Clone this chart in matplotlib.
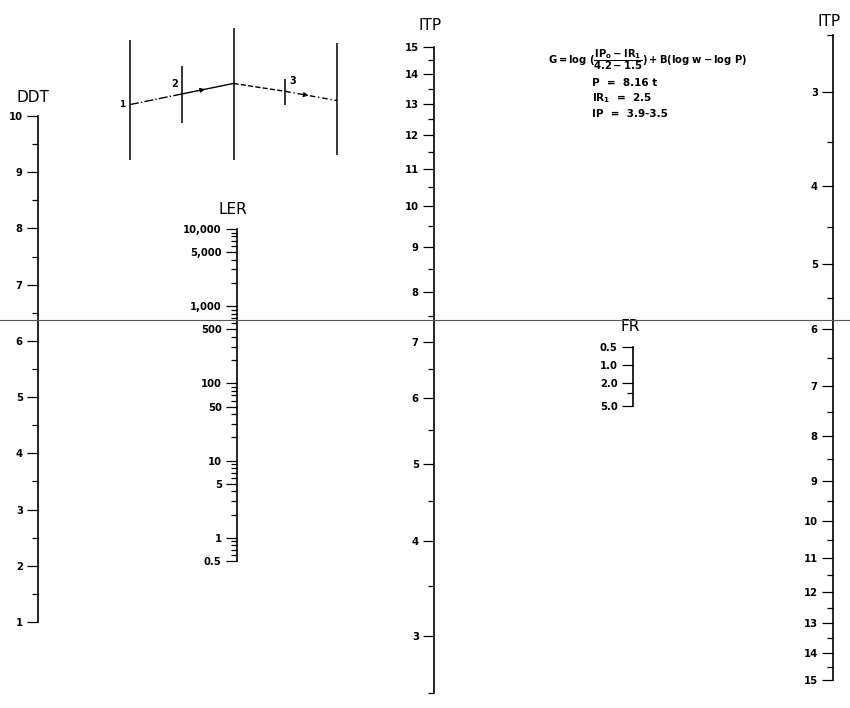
"""
Nomogram: DDT / LER / ITP / FR / ITP scales with a small key diagram and formula.
"""
import matplotlib

matplotlib.use("Agg")
import matplotlib.pyplot as plt  # noqa: E402
import numpy as np  # noqa: E402
from matplotlib.lines import Line2D  # noqa: E402

W, H = 850, 708  # figure size in px (dpi 100)

# ---- scale data -------------------------------------------------------------
ddt_major = [1, 2, 3, 4, 5, 6, 7, 8, 9, 10]
ddt_labels = ["1", "2", "3", "4", "5", "6", "7", "8", "9", "10"]
ddt_minor = [1.5, 2.5, 3.5, 4.5, 5.5, 6.5, 7.5, 8.5, 9.5]

ler_major = [0.5, 1, 5, 10, 50, 100, 500, 1000, 5000, 10000]
ler_labels = ["0.5", "1", "5", "10", "50", "100", "500", "1,000", "5,000", "10,000"]
ler_minor = [0.6, 0.7, 0.8, 0.9, 2, 3, 4, 6, 7, 8, 9, 20, 30, 40, 60, 70, 80, 90,
             200, 300, 400, 600, 700, 800, 900, 2000, 3000, 4000, 6000, 7000, 8000, 9000]

itp_major = [3, 4, 5, 6, 7, 8, 9, 10, 11, 12, 13, 14, 15]
itp_labels = [str(v) for v in itp_major]
itp_minor = [2.5, 3.5, 4.5, 5.5, 6.5, 7.5, 8.5, 9.5, 10.5, 11.5, 12.5, 13.5, 14.5]
itp_range = (2.5, 15)

fr_major = [0.5, 1.0, 2.0, 5.0]
fr_labels = ["0.5", "1.0", "2.0", "5.0"]
fr_minor = [3.0]

# key diagram (schematic): five guide lines and the path across them
guide_x = [0, 1, 2, 3, 4]
guide_lo = [0.0, 2.8, 0.0, 4.2, 0.4]
guide_hi = [9.1, 7.1, 10.0, 6.1, 8.9]
path_y = [4.2, 5.0, 5.8, 5.2, 4.5]
path_styles = ["-.", "-", "--", (0, (4, 2, 1, 2))]
path_labels = ["1", "2", "3"]

formula = r"$G = log\ (\dfrac{IP_o - IR_1}{4.2-1.5}) + B(log\ w - log\ P)$"
constants = ["P  =  8.16 t", "IR$_1$  =  2.5", "IP  =  3.9-3.5"]


def itp_fwd(v):
    return np.log10(np.asarray(v, dtype=float) + 1.0)


def itp_inv(y):
    return 10 ** np.asarray(y, dtype=float) - 1.0


def scale_axes(fig, x_px, top_px, bottom_px):
    ax = fig.add_axes([x_px / W, 1 - bottom_px / H, 0.02, (bottom_px - top_px) / H])
    ax.patch.set_visible(False)
    for side in ("right", "top", "bottom"):
        ax.spines[side].set_visible(False)
    ax.spines["left"].set_linewidth(1.2)
    ax.set_xticks([])
    ax.tick_params(axis="y", which="major", length=8, width=0.9, pad=3,
                   direction="out")
    ax.tick_params(axis="y", which="minor", length=4, width=0.9, direction="out")
    return ax


def set_ticks(ax, major, labels, minor):
    ax.set_yticks(major)
    ax.set_yticklabels(labels, fontsize=7.2, fontweight="bold")
    ax.set_yticks(minor, minor=True)
    ax.yaxis.set_minor_formatter(matplotlib.ticker.NullFormatter())


def header(ax, text, dx=0, dy=6):
    ax.annotate(text, xy=(0, 1), xycoords="axes fraction", xytext=(dx, dy),
                textcoords="offset points", ha="center", va="bottom", fontsize=11)


def main():
    plt.rcParams["font.family"] = ["DejaVu Sans"]
    plt.rcParams["mathtext.default"] = "regular"
    fig = plt.figure(figsize=(W / 100, H / 100), dpi=100)

    # DDT (linear)
    ax = scale_axes(fig, 38, 116, 622)
    ax.set_ylim(1, 10)
    set_ticks(ax, ddt_major, ddt_labels, ddt_minor)
    header(ax, "DDT", dx=-4, dy=8)

    # LER (log)
    ax = scale_axes(fig, 237, 229, 561)
    ax.set_yscale("log")
    ax.set_ylim(0.5, 10000)
    set_ticks(ax, ler_major, ler_labels, ler_minor)
    header(ax, "LER", dx=-3, dy=9)

    # ITP middle (15 on top)
    ax = scale_axes(fig, 434, 47, 693)
    ax.set_yscale("function", functions=(itp_fwd, itp_inv))
    ax.set_ylim(*itp_range)
    set_ticks(ax, itp_major, itp_labels, itp_minor)
    header(ax, "ITP", dx=-3, dy=10)

    # FR (log, 0.5 on top)
    ax = scale_axes(fig, 633, 347, 406)
    ax.set_yscale("log")
    ax.set_ylim(5.0, 0.5)
    set_ticks(ax, fr_major, fr_labels, fr_minor)
    header(ax, "FR", dx=-2, dy=9)

    # ITP right (3 on top)
    ax = scale_axes(fig, 833, 35, 680)
    ax.set_yscale("function", functions=(itp_fwd, itp_inv))
    ax.set_ylim(itp_range[1], itp_range[0])
    set_ticks(ax, itp_major, itp_labels, itp_minor)
    header(ax, "ITP", dx=-3, dy=4)

    # key diagram
    kx = fig.add_axes([130 / W, 1 - 160 / H, 207 / W, 132 / H])
    kx.set_xlim(0, 4)
    kx.set_ylim(0, 10)
    kx.axis("off")
    kx.vlines(guide_x, guide_lo, guide_hi, color="black", lw=1.1, clip_on=False)
    for i, ls in enumerate(path_styles):
        kx.plot(guide_x[i:i + 2], path_y[i:i + 2], color="black", lw=1.0, ls=ls,
                clip_on=False)
    for i in (1, 3):
        x0, x1 = guide_x[i], guide_x[i + 1]
        y0, y1 = path_y[i], path_y[i + 1]
        t = 0.45
        kx.annotate("", xy=(x0 + (x1 - x0) * t, y0 + (y1 - y0) * t),
                    xytext=(x0 + (x1 - x0) * (t - 0.05), y0 + (y1 - y0) * (t - 0.05)),
                    arrowprops=dict(arrowstyle="-|>", color="black", lw=0.8,
                                    mutation_scale=7))
    kx.text(guide_x[0] - 0.1, path_y[0], path_labels[0], ha="right", va="center",
            fontsize=6.5, fontweight="bold")
    kx.text(guide_x[1] - 0.08, path_y[1] + 0.35, path_labels[1], ha="right",
            va="bottom", fontsize=7, fontweight="bold")
    kx.text(guide_x[3] + 0.08, path_y[3] + 0.4, path_labels[2], ha="left",
            va="bottom", fontsize=7, fontweight="bold")

    # formula block
    fig.text(648 / W, 1 - 60 / H, formula, ha="center", va="center", fontsize=7.2,
             fontweight="bold")
    for i, line in enumerate(constants):
        fig.text(592 / W, 1 - (83 + 15.5 * i) / H, line, ha="left", va="center",
                 fontsize=7.5, fontweight="bold")

    # scan seam across the sheet
    fig.add_artist(Line2D([0, 1], [1 - 320 / H] * 2, transform=fig.transFigure,
                          color="#555555", lw=0.8))

    fig.savefig("out.png", dpi=100)
    plt.close(fig)


if __name__ == "__main__":
    main()
